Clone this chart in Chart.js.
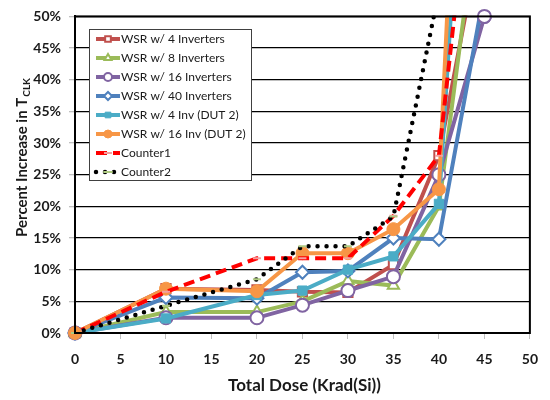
<!DOCTYPE html>
<html>
<head>
<meta charset="utf-8">
<title>Percent Increase in TCLK vs Total Dose</title>
<script src="https://cdn.jsdelivr.net/npm/chart.js@4.4.1/dist/chart.umd.min.js"></script>
<style>
  html, body { margin: 0; padding: 0; background: #fff; }
</style>
</head>
<body>
<canvas id="doseChart" width="550" height="400"></canvas>
<script>
// Total dose steps (Krad(Si)) and % increase in T_CLK per series
const doses = [0, 10, 20, 25, 30, 35, 40, 45];
const wsr4 = [0, 7.0, 6.8, 6.5, 6.4, 10.8, 28, 66];
const wsr8 = [0, 3.3, 3.3, 5.0, 8.2, 7.5, 20, 75];
const wsr16 = [0, 2.4, 2.4, 4.4, 6.7, 8.9, 25, 50];
const wsr40 = [0, 5.6, 5.5, 9.6, 9.8, 15, 14.8, 54];
const wsr4dut2 = [0, 2.3, 6.0, 6.7, 10.0, 12.1, 20.4, 134];
const wsr16dut2 = [0, 7.0, 6.6, 12.6, 12.6, 16.4, 22.7, 174];
const counter1 = [0, 6.5, 11.8, 11.8, 11.8, 18.5, 28, 93];
const counter2 = [0, 4.3, 8.5, 13.7, 13.7, 18.4, 54, 90];

const xTicks = [0, 5, 10, 15, 20, 25, 30, 35, 40, 45, 50];
const yTicks = [0, 5, 10, 15, 20, 25, 30, 35, 40, 45, 50];

const labels = ['WSR w/ 4 Inverters', 'WSR w/ 8 Inverters', 'WSR w/ 16 Inverters', 'WSR w/ 40 Inverters',
  'WSR w/ 4 Inv (DUT 2)', 'WSR w/ 16 Inv (DUT 2)', 'Counter1', 'Counter2'];

const FONT = 'Lato, "Open Sans", sans-serif';
const TEXT = '#1a1a1a';

function toPoints(vals) {
  return vals.map((v, i) => ({ x: doses[i], y: v }));
}

function series(i, vals, color, style, filled) {
  return {
    label: labels[i],
    data: toPoints(vals),
    borderColor: color,
    backgroundColor: filled ? color : '#fff',
    borderWidth: 4,
    pointStyle: style,
    pointRadius: 6.5,
    pointBorderWidth: filled ? 1 : 2,
    pointBackgroundColor: filled ? color : '#fff',
    pointBorderColor: color,
    clip: 1,
    order: labels.length - i
  };
}

const datasets = [
  series(0, wsr4, '#C0504D', 'rect', false),
  series(1, wsr8, '#9BBB59', 'triangle', false),
  series(2, wsr16, '#8064A2', 'circle', false),
  series(3, wsr40, '#4F81BD', 'rectRot', false),
  series(4, wsr4dut2, '#4BACC6', 'rect', true),
  series(5, wsr16dut2, '#F79646', 'circle', true),
  {
    label: labels[6], data: toPoints(counter1),
    borderColor: '#FF0000', borderWidth: 4, borderDash: [11, 6],
    pointStyle: 'line', pointRadius: 4, pointBorderWidth: 2, pointBorderColor: '#F4A0A0',
    clip: 1, order: 2
  },
  {
    label: labels[7], data: toPoints(counter2),
    borderColor: '#000', borderWidth: 4.5, borderDash: [0, 9], borderCapStyle: 'round',
    pointStyle: 'line', pointRadius: 4, pointBorderWidth: 2, pointBorderColor: '#AFCB82',
    clip: 1, order: 1
  }
];

// redraw markers that sit right on the plot border so they are not cut in half
const edgePoints = {
  id: 'edgePoints',
  afterDatasetsDraw(chart) {
    const a = chart.chartArea;
    const box = { left: a.left - 1, right: a.right + 1, top: a.top - 1, bottom: a.bottom + 1 };
    const metas = chart.getSortedVisibleDatasetMetas();
    for (let m = metas.length - 1; m >= 0; m--) {
      metas[m].data.forEach(p => {
        const onEdge = Math.abs(p.x - a.left) < 1.5 || Math.abs(p.x - a.right) < 1.5 ||
          Math.abs(p.y - a.top) < 1.5 || Math.abs(p.y - a.bottom) < 1.5;
        if (onEdge) p.draw(chart.ctx, box);
      });
    }
  }
};

// plot border, axis titles and the boxed legend inside the plot
const decorations = {
  id: 'decorations',
  afterDatasetsDraw(chart) {
    const ctx = chart.ctx, a = chart.chartArea;
    ctx.save();
    ctx.strokeStyle = '#000';
    ctx.lineWidth = 2;
    ctx.strokeRect(a.left, a.top, a.right - a.left, a.bottom - a.top);
    ctx.restore();
  },
  afterDraw(chart) {
    const ctx = chart.ctx, a = chart.chartArea;
    ctx.save();
    ctx.fillStyle = TEXT;
    ctx.textBaseline = 'middle';

    // x title
    ctx.font = 'bold 17px ' + FONT;
    ctx.textAlign = 'center';
    ctx.fillText('Total Dose (Krad(Si))', (a.left + a.right) / 2 + 2, 386);

    // y title with subscript
    const main = 'Percent Increase in T', sub = 'CLK';
    ctx.font = 'bold 15px ' + FONT;
    const w1 = ctx.measureText(main).width;
    ctx.font = 'bold 10px ' + FONT;
    const w2 = ctx.measureText(sub).width;
    ctx.translate(22, 158);
    ctx.rotate(-Math.PI / 2);
    ctx.textAlign = 'left';
    const start = -(w1 + w2) / 2;
    ctx.font = 'bold 15px ' + FONT;
    ctx.fillText(main, start, 0);
    ctx.font = 'bold 10px ' + FONT;
    ctx.fillText(sub, start + w1 + 1, 5);
    ctx.restore();

    // legend
    const lx = 89, ly = 29, lw = 162, lh = 151, step = 19;
    ctx.save();
    ctx.fillStyle = '#fff';
    ctx.fillRect(lx, ly, lw, lh);
    ctx.strokeStyle = '#404040';
    ctx.lineWidth = 1;
    ctx.strokeRect(lx + 0.5, ly + 0.5, lw, lh);
    chart.data.datasets.forEach((ds, i) => {
      const y = ly + 10 + i * step;
      ctx.save();
      ctx.strokeStyle = ds.borderColor;
      ctx.lineWidth = ds.borderWidth;
      ctx.lineCap = ds.borderCapStyle || 'butt';
      ctx.setLineDash(ds.borderDash || []);
      ctx.beginPath();
      ctx.moveTo(96, y);
      ctx.lineTo(120, y);
      ctx.stroke();
      ctx.setLineDash([]);
      ctx.fillStyle = ds.pointBackgroundColor || '#fff';
      ctx.strokeStyle = ds.pointBorderColor;
      ctx.lineWidth = ds.pointBorderWidth;
      Chart.helpers.drawPoint(ctx, { pointStyle: ds.pointStyle, radius: 4, rotation: 0, borderWidth: ds.pointBorderWidth }, 108, y);
      ctx.restore();
      ctx.fillStyle = TEXT;
      ctx.font = '12px ' + FONT;
      ctx.textAlign = 'left';
      ctx.textBaseline = 'middle';
      ctx.fillText(ds.label, 121, y);
    });
    ctx.restore();
  }
};

new Chart(document.getElementById('doseChart'), {
  type: 'line',
  data: { datasets: datasets },
  options: {
    responsive: false,
    animation: false,
    layout: { padding: { left: 0, right: 9, top: 12, bottom: 0 } },
    plugins: { legend: { display: false }, tooltip: { enabled: false } },
    scales: {
      x: {
        type: 'linear', min: 0, max: 50,
        afterBuildTicks: s => { s.ticks = xTicks.map(v => ({ value: v })); },
        afterFit: s => { s.height = 67; },
        ticks: { color: TEXT, font: { family: FONT, size: 14, weight: 'bold' }, padding: 12 },
        grid: { drawOnChartArea: false, drawTicks: true, tickLength: 6, tickColor: '#bfbfbf' },
        border: { display: true, color: '#000', width: 2 }
      },
      y: {
        min: 0, max: 50,
        afterBuildTicks: s => { s.ticks = yTicks.map(v => ({ value: v })); },
        afterFit: s => { s.width = 75; },
        ticks: { color: TEXT, font: { family: FONT, size: 14, weight: 'bold' }, padding: 8, callback: v => v + '%' },
        grid: { color: '#000', lineWidth: 1.3, drawTicks: true, tickLength: 6, tickColor: '#bfbfbf' },
        border: { display: true, color: '#000', width: 2 }
      }
    }
  },
  plugins: [edgePoints, decorations]
});
</script>
</body>
</html>
